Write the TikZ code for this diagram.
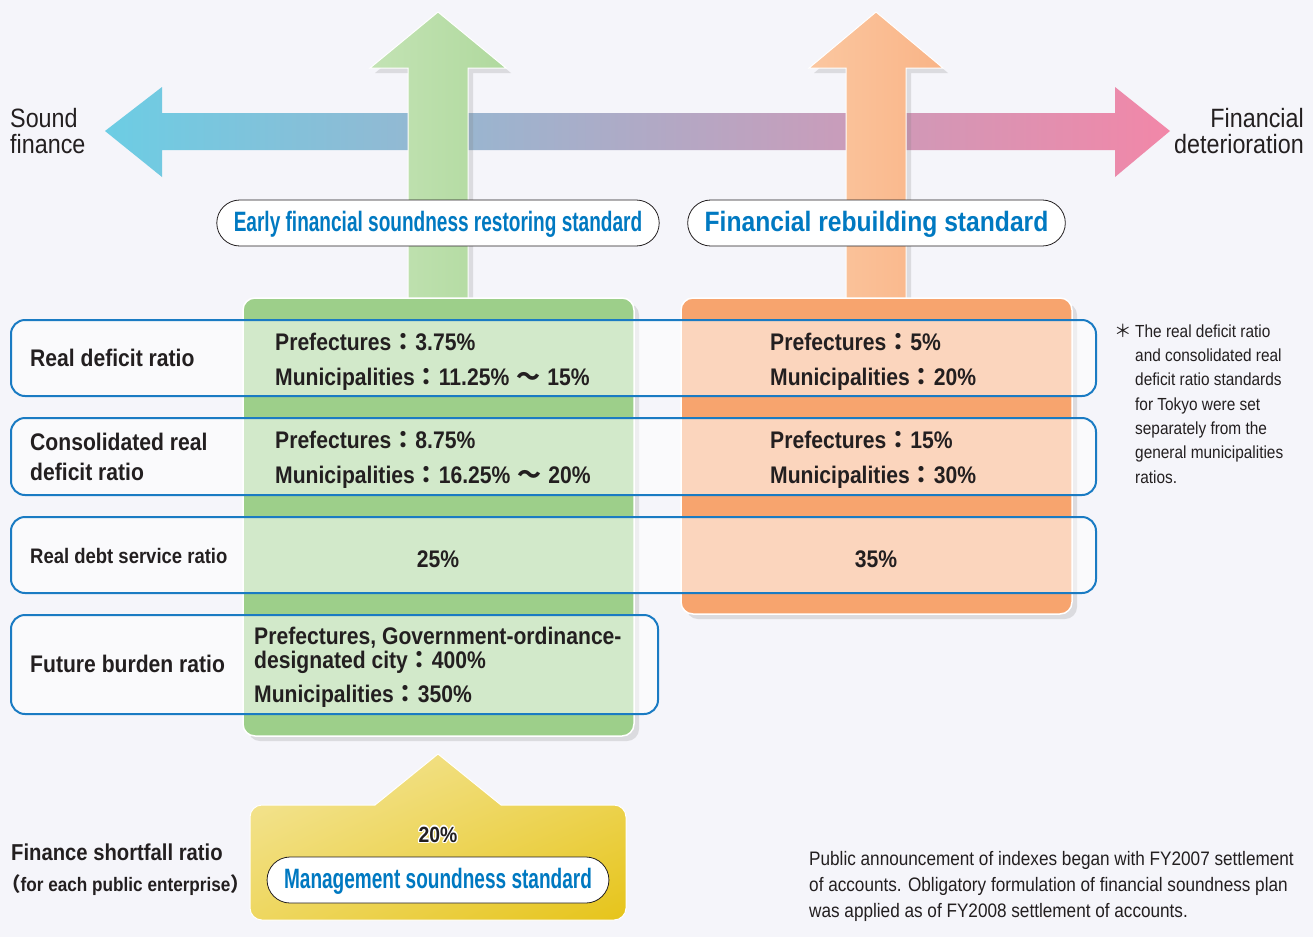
\documentclass[tikz,border=0pt]{standalone}
\usepackage{fontspec}
\setmainfont{Liberation Sans}
\newfontfamily\cnd[FakeStretch=0.88]{Liberation Sans}
\newfontfamily\nrw[FakeStretch=0.68]{Liberation Sans}
\newfontfamily\cjk{Noto Sans CJK JP}
\usetikzlibrary{shadows,shadings}
\definecolor{bgc}{HTML}{F5F5FA}
\definecolor{ink}{HTML}{231F20}
\definecolor{skyc}{HTML}{6CCDE4}
\definecolor{lilac}{HTML}{9D91C8}
\definecolor{rose}{HTML}{F287A8}
\definecolor{grnE}{HTML}{9DCF8A}
\definecolor{grnM}{HTML}{C8E5BC}
\definecolor{grnL}{HTML}{C3E3B4}
\definecolor{grnR}{HTML}{B0D99E}
\definecolor{orgE}{HTML}{F7A46E}
\definecolor{orgM}{HTML}{FCCBA8}
\definecolor{orgL}{HTML}{FBC7A0}
\definecolor{orgR}{HTML}{F9B487}
\definecolor{yelL}{HTML}{F4E7A0}
\definecolor{yelM}{HTML}{EED760}
\definecolor{yelD}{HTML}{E6C41A}
\definecolor{rowblue}{HTML}{1A7BC3}
\definecolor{stdblue}{HTML}{0079C1}
\newcommand\fcolon{{\cjk ：}}
\newcommand\fwave{\kern7pt{\cjk ～}\kern7pt}
\newcommand\halo[1]{\leavevmode
  \rlap{\textcolor{white}{\kern-1.3pt#1}}\rlap{\textcolor{white}{\kern1.3pt#1}}%
  \rlap{\textcolor{white}{\raisebox{1.3pt}{#1}}}\rlap{\textcolor{white}{\raisebox{-1.3pt}{#1}}}%
  \rlap{\textcolor{white}{\kern-1pt\raisebox{1pt}{#1}}}\rlap{\textcolor{white}{\kern1pt\raisebox{-1pt}{#1}}}%
  \rlap{\textcolor{white}{\kern1pt\raisebox{1pt}{#1}}}\rlap{\textcolor{white}{\kern-1pt\raisebox{-1pt}{#1}}}#1}

\begin{document}
\begin{tikzpicture}[x=1pt, y=-1pt,
    shadowed/.style={drop shadow={shadow xshift=5pt, shadow yshift=-5pt, opacity=0.22}},
    rowbox/.style={draw=rowblue, line width=2pt, fill=white, fill opacity=0.55, rounded corners=14pt},
    pill/.style={draw=ink, line width=0.8pt, fill=white, rounded corners=23pt, minimum height=46pt,
        inner xsep=17pt, text height=20pt, text depth=4pt, text=stdblue},
    lbl/.style={anchor=base west, inner sep=0pt, text=ink, align=left,
        font=\cnd\bfseries\fontsize{24}{30}\selectfont},
    note/.style={anchor=base west, inner sep=0pt, text=ink, align=left}]
    \fill[bgc] (0,0) rectangle (1313,937);
    \useasboundingbox (0,0) rectangle (1313,937);
    % --- horizontal scale: sound finance <-> financial deterioration ---
    \shade[left color=skyc, middle color=lilac, right color=rose]
        (105,131) -- (162,87) -- (162,113) -- (1115,113) -- (1115,87) -- (1170,131)
        -- (1115,177) -- (1115,150) -- (162,150) -- (162,177) -- cycle;
    % (multi-line nodes sit on the baseline of their last line)
    \node[note, font=\cnd\fontsize{26.5}{26}\selectfont] (sound) at (10,153) {Sound\\finance};
    \node[note, anchor=base east, align=right, font=\cnd\fontsize{26.5}{26}\selectfont] (deter) at (1304,153)
        {Financial\\deterioration};
    % --- green arrow and box: early restoring standard ---
    \shade[left color=grnL, right color=grnR, draw=white, line width=1pt, shadowed]
        (438,12) -- (506,68) -- (468,68) -- (468,300) -- (408,300) -- (408,68) -- (370,68) -- cycle;
    \shade[left color=grnE, middle color=grnM, right color=grnE, draw=white, line width=1.5pt,
        rounded corners=12pt, shadowed] (243,298) rectangle (634,736);
    % --- orange arrow and box: rebuilding standard ---
    \shade[left color=orgL, right color=orgR, draw=white, line width=1pt, shadowed]
        (876,12) -- (943,68) -- (906,68) -- (906,300) -- (846,300) -- (846,68) -- (809,68) -- cycle;
    \shade[left color=orgE, middle color=orgM, right color=orgE, draw=white, line width=1.5pt,
        rounded corners=12pt, shadowed] (681,298) rectangle (1072,614);
    % --- standard labels ---
    \node[pill, font=\nrw\bfseries\fontsize{28}{30}\selectfont] (early) at (438,223)
        {Early financial soundness restoring standard};
    \node[pill, font=\cnd\bfseries\fontsize{28}{30}\selectfont] (rebuild) at (876.5,223)
        {Financial rebuilding standard};
    % --- ratio rows ---
    \draw[rowbox] (11,320) rectangle (1096,396);
    \draw[rowbox] (11,418) rectangle (1096,495);
    \draw[rowbox] (11,517) rectangle (1096,593);
    \draw[rowbox] (11,615) rectangle (658,714);
    \node[lbl] (real) at (30,366) {Real deficit ratio};
    \node[lbl] (consol) at (30,480) {Consolidated real\\deficit ratio};
    \node[lbl, font=\cnd\bfseries\fontsize{21}{26}\selectfont] (debt) at (30,563) {Real debt service ratio};
    \node[lbl] (future) at (30,672) {Future burden ratio};
    % green values
    \node[lbl] (realA) at (275,350) {Prefectures\fcolon 3.75\%};
    \node[lbl] (realB) at (275,385) {Municipalities\fcolon 11.25\%\fwave 15\%};
    \node[lbl] (consA) at (275,448) {Prefectures\fcolon 8.75\%};
    \node[lbl] (consB) at (275,483) {Municipalities\fcolon 16.25\%\fwave 20\%};
    \node[lbl, anchor=base] (debtA) at (438,567) {25\%};
    \node[lbl, font=\cnd\bfseries\fontsize{24}{24}\selectfont] (futA) at (254,668)
        {Prefectures, Government-ordinance-\\designated city\fcolon 400\%};
    \node[lbl] (futB) at (254,702) {Municipalities\fcolon 350\%};
    % orange values
    \node[lbl] (realC) at (770,350) {Prefectures\fcolon 5\%};
    \node[lbl] (realD) at (770,385) {Municipalities\fcolon 20\%};
    \node[lbl] (consC) at (770,448) {Prefectures\fcolon 15\%};
    \node[lbl] (consD) at (770,483) {Municipalities\fcolon 30\%};
    \node[lbl, anchor=base] (debtB) at (876,567) {35\%};
    % --- note on Tokyo ---
    \node[note, font=\cnd\fontsize{17.5}{24.3}\selectfont] (tokyo) at (1135,483)
        {\llap{{\cjk ＊}\kern3pt}The real deficit ratio\\and consolidated real\\deficit ratio standards\\
         for Tokyo were set\\separately from the\\general municipalities\\ratios.};
    % --- management soundness standard ---
    \shade[upper left=yelL, upper right=yelM, lower left=yelM, lower right=yelD, draw=white, line width=1pt]
        (375,805) -- (438,754) -- (501,805) -- (614,805) arc (-90:0:12) -- (626,908) arc (0:90:12)
        -- (262,920) arc (90:180:12) -- (250,817) arc (180:270:12) -- cycle;
    \node[lbl, anchor=base, font=\cnd\bfseries\fontsize{22}{26}\selectfont] (short) at (438,842) {\halo{20\%}};
    \node[pill, font=\nrw\bfseries\fontsize{28}{30}\selectfont] (manage) at (438,880)
        {Management soundness standard};
    \node[lbl, font=\cnd\bfseries\fontsize{23}{26}\selectfont] (finsh) at (11,860) {Finance shortfall ratio};
    \node[lbl, font=\cnd\bfseries\fontsize{19.5}{24}\selectfont] (each) at (1,891)
        {{\cjk （}for each public enterprise{\cjk ）}};
    % --- announcement note ---
    \node[note, font=\cnd\fontsize{19.5}{26}\selectfont] (announce) at (809,917)
        {Public announcement of indexes began with FY2007 settlement\\
         of accounts. Obligatory formulation of financial soundness plan\\
         was applied as of FY2008 settlement of accounts.};
\end{tikzpicture}
\end{document}
